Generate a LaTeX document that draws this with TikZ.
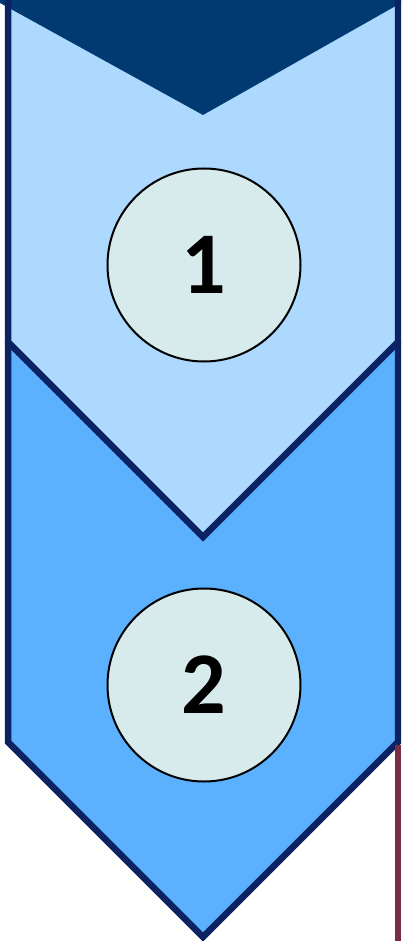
\documentclass[tikz,border=0pt]{standalone}
\usepackage{fontspec}
\setmainfont{Carlito}
\definecolor{lightchev}{HTML}{ADD9FF}
\definecolor{midchev}{HTML}{5CB1FF}
\definecolor{navyline}{HTML}{0B2263}
\definecolor{darktop}{HTML}{003A70}
\definecolor{circfill}{HTML}{D8EBEC}
\definecolor{maroonline}{HTML}{7B2D44}
\tikzset{
  outline/.style={draw=navyline, line width=6.5pt, line join=miter},
  numcircle/.style={circle, draw=black, line width=2pt, fill=circfill, minimum size=193pt, inner sep=0pt,
    font=\fontsize{88}{88}\selectfont\bfseries},
}
\begin{document}
\begin{tikzpicture}[x=1pt,y=-1pt]
\useasboundingbox (0,0) rectangle (401,941);
\clip (0,0) rectangle (401,941);
% chevron 2
\fill[midchev] (8,342) -- (203,537) -- (398,342) -- (398,742) -- (203,937) -- (8,742) -- cycle;
\draw[outline] (8,342) -- (8,742) -- (203,937) -- (398,742) -- (398,342);
% chevron 1
\fill[lightchev] (8,0) -- (398,0) -- (398,342) -- (203,537) -- (8,342) -- cycle;
\fill[darktop] (0,0) -- (401,0) -- (401,3) -- (203,115) -- (0,3) -- cycle;
\draw[outline] (8,-5) -- (8,342) -- (203,537) -- (398,342) -- (398,-5);
% maroon line
\draw[maroonline, line width=6pt] (398,745) -- (398,946);
% circles
\node[numcircle] (c1) at (204,265) {1};
\node[numcircle] (c2) at (204,685) {2};
\end{tikzpicture}
\end{document}
